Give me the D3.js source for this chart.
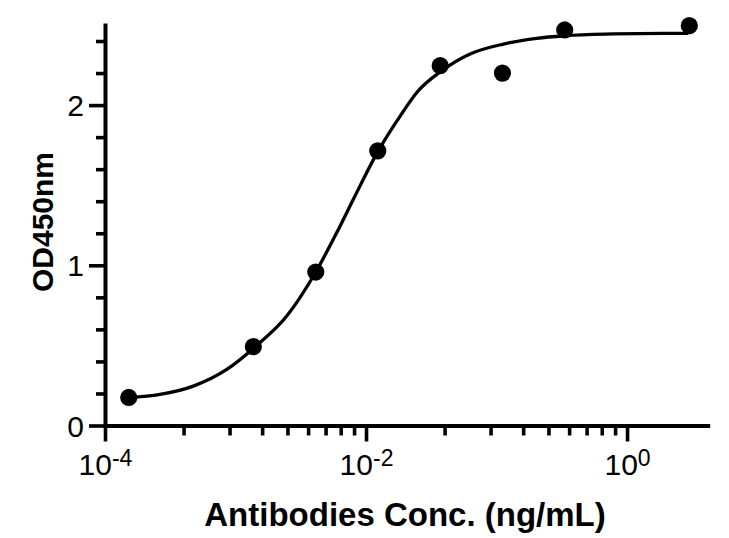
<!DOCTYPE html>
<html>
<head>
<meta charset="utf-8">
<script src="https://cdn.jsdelivr.net/npm/d3@7"></script>
<style>
  html, body { margin: 0; padding: 0; background: #ffffff; }
  svg { display: block; }
  text { font-family: "Liberation Sans", Arial, Helvetica, sans-serif; fill: #000; }
</style>
</head>
<body>
<svg id="chart" width="729" height="538"></svg>
<script>
// ---- data ----
const concentrations = [0.000152, 0.00137, 0.00412, 0.0123, 0.037, 0.111, 0.333, 3];
const odValues       = [0.175, 0.492, 0.958, 1.714, 2.246, 2.200, 2.469, 2.496];

// fitted curve
const fitConc = [0.000151, 0.000264, 0.000475, 0.000857, 0.00139, 0.00247, 0.00412, 0.00597, 0.0080, 0.0124, 0.0182, 0.0245, 0.038, 0.0627, 0.113, 0.203, 0.335, 0.785, 1.9, 2.95];
const fitOD   = [0.173, 0.194, 0.246, 0.350, 0.486, 0.683, 0.958, 1.204, 1.412, 1.714, 1.930, 2.079, 2.214, 2.319, 2.381, 2.417, 2.433, 2.444, 2.448, 2.448];

const xMajorTicks = [1e-4, 1e-2, 1];
const xTickExponents = ["-4", "-2", "0"];
const xMinorTicks = [4e-4, 9e-4, 1.6e-3, 2.5e-3, 3.6e-3, 4.9e-3, 6.4e-3, 8.1e-3,
                     0.04, 0.09, 0.16, 0.25, 0.36, 0.49, 0.64, 0.81];
const yMajorTicks = [0, 1, 2];
const yMinorTicks = [0.2, 0.4, 0.6, 0.8, 1.2, 1.4, 1.6, 1.8, 2.2, 2.4];

const xTitle = "Antibodies Conc. (ng/mL)";
const yTitle = "OD450nm";

// ---- layout ----
const svg = d3.select("#chart");
const mLeft = 105, mRight = 707.7, mTop = 25, mBottom = 425.5;

const x = d3.scaleLog().domain([1e-4, 4.15]).range([mLeft, mRight]);
const y = d3.scaleLinear().domain([0, 2.5]).range([mBottom, mTop]);

// X axis: minor ticks
const gxMinor = svg.append("g").attr("transform", `translate(0,${mBottom})`)
  .call(d3.axisBottom(x).tickValues(xMinorTicks).tickSize(10).tickFormat(""));
gxMinor.select(".domain").remove();

// X axis: major ticks + domain
const gx = svg.append("g").attr("transform", `translate(0,${mBottom})`)
  .call(d3.axisBottom(x).tickValues(xMajorTicks).tickSize(16).tickSizeOuter(0).tickFormat(""));

gx.selectAll(".tick text").each(function(d, i) {
  const t = d3.select(this)
    .attr("y", 49).attr("dy", null)
    .attr("text-anchor", "middle")
    .style("font-size", "30px");
  t.append("tspan").text("10");
  t.append("tspan").attr("dy", -9).style("font-size", "23px").text(xTickExponents[i]);
});

// Y axis: minor ticks
const gyMinor = svg.append("g").attr("transform", `translate(${mLeft},0)`)
  .call(d3.axisLeft(y).tickValues(yMinorTicks).tickSize(9).tickFormat(""));
gyMinor.select(".domain").remove();

// Y axis: major ticks + domain
const gy = svg.append("g").attr("transform", `translate(${mLeft},0)`)
  .call(d3.axisLeft(y).tickValues(yMajorTicks).tickSize(16).tickSizeOuter(0).tickFormat(d3.format("d")));
gy.selectAll(".tick text")
  .attr("x", -21)
  .attr("dy", "0.35em")
  .style("font-size", "30px");

// axis styles
svg.selectAll(".domain").style("stroke", "#000").style("stroke-width", "4px").style("stroke-linecap", "square");
svg.selectAll(".tick line").style("stroke", "#000").style("stroke-width", "3.6px");
svg.selectAll("g").attr("font-family", null).attr("font-size", null);

// fitted curve
const line = d3.line()
  .x((d, i) => x(fitConc[i]))
  .y((d, i) => y(fitOD[i]))
  .curve(d3.curveMonotoneX);

svg.append("path")
  .datum(fitOD)
  .attr("d", line)
  .style("fill", "none")
  .style("stroke", "#000")
  .style("stroke-width", "3.3px");

// data points
svg.append("g").selectAll("circle")
  .data(odValues)
  .join("circle")
  .attr("cx", (d, i) => x(concentrations[i]))
  .attr("cy", d => y(d))
  .attr("r", 8.6)
  .attr("fill", "#000");

// titles
svg.append("text")
  .attr("x", 405)
  .attr("y", 525.5)
  .attr("text-anchor", "middle")
  .style("font-size", "33px")
  .style("font-weight", "bold")
  .text(xTitle);

svg.append("text")
  .attr("transform", "translate(53.3,222) rotate(-90)")
  .attr("text-anchor", "middle")
  .style("font-size", "30px")
  .style("font-weight", "bold")
  .text(yTitle);
</script>
</body>
</html>
